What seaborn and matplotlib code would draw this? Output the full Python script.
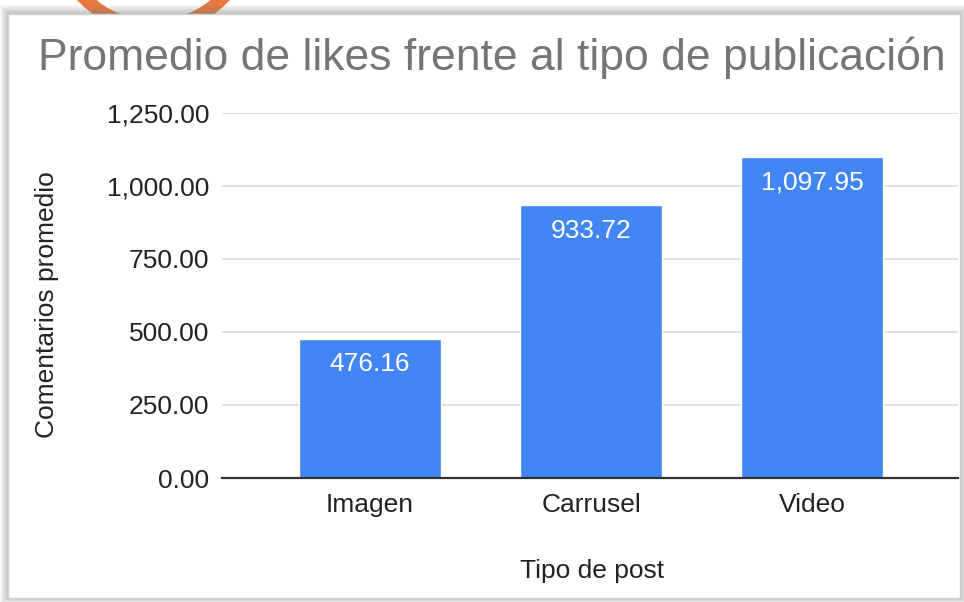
import matplotlib
matplotlib.use("Agg")
import matplotlib.pyplot as plt
import matplotlib.ticker as mticker
from matplotlib.patches import Rectangle, Circle
import seaborn as sns

# datos
tipos = ["Imagen", "Carrusel", "Video"]
likes = [476.16, 933.72, 1097.95]
yticks = [0, 250, 500, 750, 1000, 1250]

titulo = "Promedio de likes frente al tipo de publicación"
azul = "#4285F4"

sns.set_theme(style="white")
plt.rcParams["font.family"] = ["Liberation Sans", "DejaVu Sans"]

fig = plt.figure(figsize=(9.64, 6.02), dpi=100)
fig.patch.set_facecolor("white")

# fondo: tarjeta con sombra y el aro naranja de arriba
bg = fig.add_axes([0, 0, 1, 1], zorder=-5)
bg.set_xlim(0, 964)
bg.set_ylim(602, 0)
bg.axis("off")
bg.add_patch(Circle((153.5, -70), 97, fill=False, lw=9.5, ec="#E8783F"))
for i in range(10, 0, -1):
    bg.add_patch(Rectangle((8 - i * 0.8, 14 - i * 0.9), 952 + i * 1.6, 584 + i * 1.4,
                           fc="#808080", ec="none", alpha=0.05))
bg.add_patch(Rectangle((8, 14), 952, 584, fc="white", ec="#d0d0d0", lw=1))

ax = fig.add_axes([222 / 964, 1 - 478 / 602, 736 / 964, 365 / 602])
ax.patch.set_alpha(0)
sns.barplot(x=tipos, y=likes, color=azul, saturation=1, width=0.64,
            errorbar=None, ax=ax, zorder=3)

ax.set_xlim(-0.67, 2.66)
ax.set_ylim(0, 1250)
ax.set_yticks(yticks)
ax.yaxis.set_major_formatter(mticker.StrMethodFormatter("{x:,.2f}"))
ax.grid(axis="y", color="#d9d9d9", lw=1.2, zorder=0)
ax.set_axisbelow(True)
for s in ["top", "right", "left"]:
    ax.spines[s].set_visible(False)
ax.spines["bottom"].set_color("#333333")
ax.spines["bottom"].set_linewidth(1.6)
ax.spines["bottom"].set_zorder(4)
ax.tick_params(axis="y", length=0, pad=9, labelsize=19, labelcolor="#222222")
ax.tick_params(axis="x", length=0, pad=11, labelsize=19, labelcolor="#222222")
ax.set_xlabel("")
ax.set_ylabel("")

ax.bar_label(ax.containers[0], labels=[f"{v:,.2f}" for v in likes],
             padding=-27, color="white", fontsize=19)

fig.text(38 / 964, 1 - 58 / 602, titulo, ha="left", va="center",
         fontsize=32, color="#757575")
fig.text(47 / 964, 1 - 305 / 602, "Comentarios promedio", rotation=90,
         ha="center", va="center", fontsize=19, color="#222222")
fig.text(592 / 964, 1 - 571 / 602, "Tipo de post", ha="center", va="center",
         fontsize=19, color="#222222")

fig.savefig("out.png", dpi=100)
